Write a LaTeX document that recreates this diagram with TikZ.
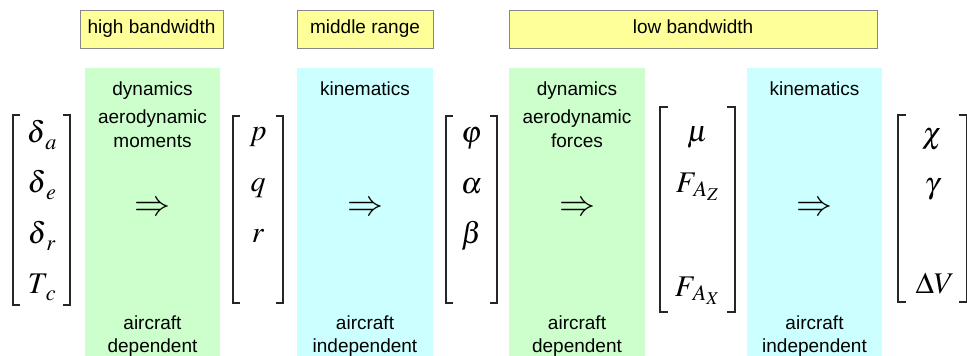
\documentclass[tikz,border=0pt]{standalone}
\usepackage{mathptmx}
\usepackage[no-math]{fontspec}
\setmainfont{Liberation Sans}
\definecolor{ybox}{RGB}{255,255,153}
\definecolor{ybord}{RGB}{135,135,135}
\definecolor{gpan}{RGB}{204,255,204}
\definecolor{cpan}{RGB}{204,255,255}
\tikzset{
  band/.style={draw=ybord, fill=ybox, line width=1pt},
  panel/.style={fill=#1, draw=none, inner sep=0pt, anchor=north west, minimum width=136pt, minimum height=288pt},
  lbl/.style={font=\fontsize{19}{24}\selectfont, anchor=base, inner sep=0pt},
  mth/.style={font=\fontsize{30}{36}\selectfont, anchor=base, inner sep=0pt},
  arr/.style={font=\fontsize{36}{40}\selectfont, anchor=center, inner sep=0pt},
  brk/.style={line width=1.5pt, draw=black!85}
}
\newcommand\mybrk[5]{% xl, xr, ytop, ybot, tick
  \draw[brk] (#1+#5,#3) -- (#1,#3) -- (#1,#4) -- (#1+#5,#4);
  \draw[brk] (#2-#5,#3) -- (#2,#3) -- (#2,#4) -- (#2-#5,#4);}
\newcommand\lowsub[2]{#1_{\mkern3mu\raisebox{-2.5pt}{$\scriptstyle #2$}}}
\begin{document}
\begin{tikzpicture}[x=1pt,y=-1pt]
\useasboundingbox (0,0) rectangle (967,356);
\fill[white] (0,0) rectangle (967,356);
% band boxes
\draw[band] (80,10) rectangle (223,48);
\draw[band] (297,10) rectangle (433,48);
\draw[band] (509,10) rectangle (877,48);
\node[lbl] (hb) at (151.5,34) {high bandwidth};
\node[lbl] (mr) at (365,34) {middle range};
\node[lbl] (lb) at (693,34) {low bandwidth};
% panels
\node[panel=gpan, minimum width=135pt] (g1) at (85,68) {};
\node[panel=cpan] (c1) at (297,68) {};
\node[panel=gpan] (g2) at (509,68) {};
\node[panel=cpan, minimum width=135pt] (c2) at (747,68) {};
% panel 1 texts
\node[lbl] (g1a) at (152.5,95) {dynamics};
\node[lbl] (g1b) at (152.5,123) {aerodynamic};
\node[lbl] (g1c) at (152.5,147) {moments};
\node[arr] (g1arr) at (152.5,209) {$\Rightarrow$};
\node[lbl] (g1d) at (152.5,329) {aircraft};
\node[lbl] (g1e) at (152.5,352) {dependent};
% panel 2 texts
\node[lbl] (c1a) at (365,95) {kinematics};
\node[arr] (c1arr) at (365,209) {$\Rightarrow$};
\node[lbl] (c1d) at (365,329) {aircraft};
\node[lbl] (c1e) at (365,352) {independent};
% panel 3 texts
\node[lbl] (g2a) at (577,95) {dynamics};
\node[lbl] (g2b) at (577,123) {aerodynamic};
\node[lbl] (g2c) at (577,147) {forces};
\node[arr] (g2arr) at (577,209) {$\Rightarrow$};
\node[lbl] (g2d) at (577,329) {aircraft};
\node[lbl] (g2e) at (577,352) {dependent};
% panel 4 texts
\node[lbl] (c2a) at (814.5,95) {kinematics};
\node[arr] (c2arr) at (814.5,209) {$\Rightarrow$};
\node[lbl] (c2d) at (814.5,329) {aircraft};
\node[lbl] (c2e) at (814.5,352) {independent};
% matrix 1
\mybrk{13}{70}{115}{305}{7}
\node[mth] (m1a) at (42,142) {$\lowsub{\delta}{a}$};
\node[mth] (m1b) at (42,192) {$\lowsub{\delta}{e}$};
\node[mth] (m1c) at (42,243) {$\lowsub{\delta}{r}$};
\node[mth] (m1d) at (42,293) {$\lowsub{T}{c}$};
% matrix 2
\mybrk{233}{283}{116}{303}{7}
\node[mth] (m2a) at (258,140) {$p$};
\node[mth] (m2b) at (258,191) {$q$};
\node[mth] (m2c) at (258,242) {$r$};
% matrix 3
\mybrk{446}{497}{116}{303}{7}
\node[mth] (m3a) at (471.5,142) {$\varphi$};
\node[mth] (m3b) at (471.5,193) {$\alpha$};
\node[mth] (m3c) at (471.5,243) {$\beta$};
% matrix 4
\mybrk{660}{735}{107}{312}{8}
\node[mth] (m4a) at (697.5,141) {$\mu$};
\node[mth] (m4b) at (697.5,192) {$F_{\mkern2mu A_Z}$};
\node[mth] (m4c) at (697.5,296) {$F_{\mkern2mu A_X}$};
% matrix 5
\mybrk{898}{966.5}{115}{302}{8}
\node[mth] (m5a) at (932,143) {$\chi$};
\node[mth] (m5b) at (932,193) {$\gamma$};
\node[mth] (m5c) at (935,293) {$\Delta V$};
\end{tikzpicture}
\end{document}
